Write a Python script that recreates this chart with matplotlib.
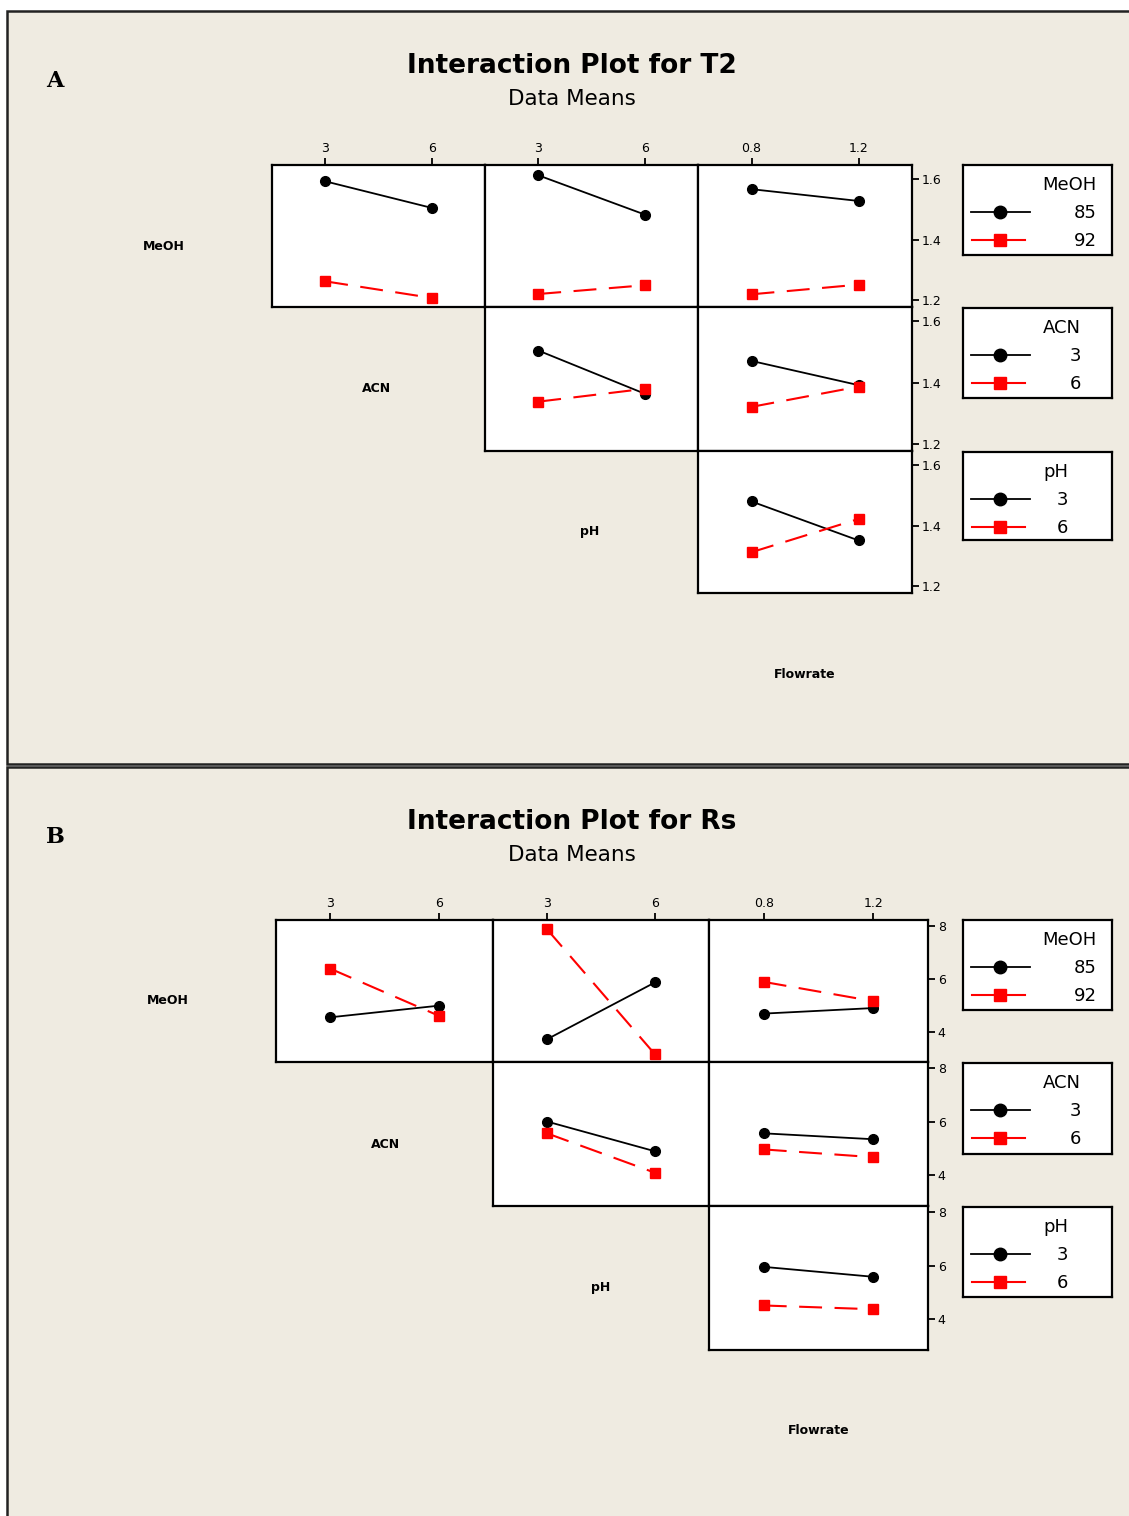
"""
Minitab-style interaction plots (data means) for T2 and Rs.
Two stacked panels, each an upper-triangle matrix of factor pairs.
"""

import matplotlib
matplotlib.use("Agg")
import matplotlib.pyplot as plt
import matplotlib.patches as mpatches

W, H = 1129, 1516
BG = "#EFEBE1"

# factor levels
factors = ["MeOH", "ACN", "pH", "Flowrate"]
meoh_levels = [85, 92]
acn_levels = [3, 6]
ph_levels = [3, 6]
flow_levels = [0.8, 1.2]

# T2 means: rows = trace factor, cols = x factor
t2_meoh_acn_85 = [1.593, 1.505]
t2_meoh_acn_92 = [1.262, 1.207]
t2_meoh_ph_85 = [1.613, 1.483]
t2_meoh_ph_92 = [1.220, 1.249]
t2_meoh_flow_85 = [1.567, 1.528]
t2_meoh_flow_92 = [1.219, 1.251]
t2_acn_ph_3 = [1.505, 1.364]
t2_acn_ph_6 = [1.338, 1.380]
t2_acn_flow_3 = [1.471, 1.392]
t2_acn_flow_6 = [1.321, 1.387]
t2_ph_flow_3 = [1.480, 1.351]
t2_ph_flow_6 = [1.312, 1.422]

# Rs means
rs_meoh_acn_85 = [4.55, 4.99]
rs_meoh_acn_92 = [6.39, 4.61]
rs_meoh_ph_85 = [3.72, 5.87]
rs_meoh_ph_92 = [7.88, 3.15]
rs_meoh_flow_85 = [4.69, 4.90]
rs_meoh_flow_92 = [5.89, 5.16]
rs_acn_ph_3 = [6.01, 4.90]
rs_acn_ph_6 = [5.57, 4.10]
rs_acn_flow_3 = [5.57, 5.35]
rs_acn_flow_6 = [4.97, 4.68]
rs_ph_flow_3 = [5.96, 5.59]
rs_ph_flow_6 = [4.52, 4.38]

t2_yticks = [1.2, 1.4, 1.6]
rs_yticks = [4, 6, 8]

x_levels = [acn_levels, ph_levels, flow_levels]
x_lims = [(1.5, 7.5), (1.5, 7.5), (0.6, 1.4)]
trace_levels = [meoh_levels, acn_levels, ph_levels]

t2_cells = {
    (0, 0): (t2_meoh_acn_85, t2_meoh_acn_92),
    (0, 1): (t2_meoh_ph_85, t2_meoh_ph_92),
    (0, 2): (t2_meoh_flow_85, t2_meoh_flow_92),
    (1, 1): (t2_acn_ph_3, t2_acn_ph_6),
    (1, 2): (t2_acn_flow_3, t2_acn_flow_6),
    (2, 2): (t2_ph_flow_3, t2_ph_flow_6),
}
rs_cells = {
    (0, 0): (rs_meoh_acn_85, rs_meoh_acn_92),
    (0, 1): (rs_meoh_ph_85, rs_meoh_ph_92),
    (0, 2): (rs_meoh_flow_85, rs_meoh_flow_92),
    (1, 1): (rs_acn_ph_3, rs_acn_ph_6),
    (1, 2): (rs_acn_flow_3, rs_acn_flow_6),
    (2, 2): (rs_ph_flow_3, rs_ph_flow_6),
}

fig = plt.figure(figsize=(W / 100, H / 100), dpi=100)
fig.patch.set_facecolor("white")


def fx(x):
    return x / W


def fy(y):
    return 1 - y / H


def add_ax(x0, y0, x1, y1):
    return fig.add_axes([fx(x0), fy(y1), (x1 - x0) / W, (y1 - y0) / H])


def style_box(ax, lw=1.6):
    ax.set_facecolor("white")
    for s in ax.spines.values():
        s.set_linewidth(lw)
        s.set_color("black")


def draw_panel(top, letter, title, cells, yticks, ylim, xs, ys, leg_x, leg_ys):
    # panel background frame (kept behind the axes)
    fig.add_artist(mpatches.Rectangle((fx(7), fy(top + 753)), 1.2, 753 / H,
                                      facecolor=BG, edgecolor="#222222",
                                      linewidth=1.8, zorder=-10,
                                      transform=fig.transFigure))
    fig.text(fx(55), fy(top + 70), letter, family="DejaVu Serif",
             fontweight="bold", fontsize=16, ha="center", va="center")
    fig.text(fx(572), fy(top + 55), title, fontweight="bold", fontsize=19,
             ha="center", va="center")
    fig.text(fx(572), fy(top + 88), "Data Means", fontsize=15.5,
             ha="center", va="center")

    for (r, c), (s1, s2) in cells.items():
        ax = add_ax(xs[c], ys[r], xs[c + 1], ys[r + 1])
        style_box(ax)
        ax.plot(x_levels[c], s1, color="black", marker="o", markersize=7,
                linewidth=1.3)
        ax.plot(x_levels[c], s2, color="red", marker="s", markersize=7,
                linewidth=1.5, dashes=(11, 6))
        ax.set_xlim(*x_lims[c])
        ax.set_ylim(*ylim)
        ax.set_xticks([])
        ax.set_yticks([])
        if r == 0:
            ax.xaxis.tick_top()
            ax.set_xticks(x_levels[c])
            ax.set_xticklabels([str(v) for v in x_levels[c]])
            ax.tick_params(axis="x", direction="out", length=5, width=1.3,
                           labelsize=9, pad=2)
        if c == 2:
            ax.yaxis.tick_right()
            ax.set_yticks(yticks)
            ax.set_yticklabels([str(v) for v in yticks])
            ax.tick_params(axis="y", direction="out", length=5, width=1.3,
                           labelsize=9, pad=2)

    # factor names on the diagonal
    for i, name in enumerate(factors):
        if i < 3:
            cx = xs[i] - 108
            cy = (ys[i] + ys[i + 1]) / 2 + 10
        else:
            cx = (xs[2] + xs[3]) / 2
            cy = ys[3] + 81
        fig.text(fx(cx), fy(cy), name, fontweight="bold", fontsize=9,
                 ha="center", va="center")

    # legends
    title_right = [1097, 1081, 1068]
    for i, (y0, y1) in enumerate(leg_ys):
        lax = add_ax(leg_x[0], y0, leg_x[1], y1)
        style_box(lax)
        lax.set_xlim(leg_x[0], leg_x[1])
        lax.set_ylim(y1, y0)
        lax.set_xticks([])
        lax.set_yticks([])
        lax.text(title_right[i], y0 + 20, factors[i], fontsize=13,
                 ha="right", va="center")
        lvl = trace_levels[i]
        lax.plot([971, 1030], [y0 + 47, y0 + 47], color="black", linewidth=1.3)
        lax.plot([1000], [y0 + 47], color="black", marker="o", markersize=9)
        lax.plot([972, 1025], [y0 + 75, y0 + 75], color="red", linewidth=1.5)
        lax.plot([1000], [y0 + 75], color="red", marker="s", markersize=9)
        lax.text(title_right[i], y0 + 48, str(lvl[0]), fontsize=13,
                 ha="right", va="center")
        lax.text(title_right[i], y0 + 76, str(lvl[1]), fontsize=13,
                 ha="right", va="center")


draw_panel(11, "A", "Interaction Plot for T2", t2_cells, t2_yticks,
           (1.177, 1.647),
           xs=[272, 485, 698, 912], ys=[165, 307, 451, 593],
           leg_x=(963, 1112), leg_ys=[(165, 255), (308, 398), (452, 540)])

draw_panel(767, "B", "Interaction Plot for Rs", rs_cells, rs_yticks,
           (2.86, 8.23),
           xs=[276, 493, 709, 928], ys=[920, 1062, 1206, 1350],
           leg_x=(963, 1112), leg_ys=[(920, 1010), (1063, 1154), (1207, 1297)])

plt.savefig("out.png", dpi=100, facecolor=fig.get_facecolor())
plt.close(fig)
